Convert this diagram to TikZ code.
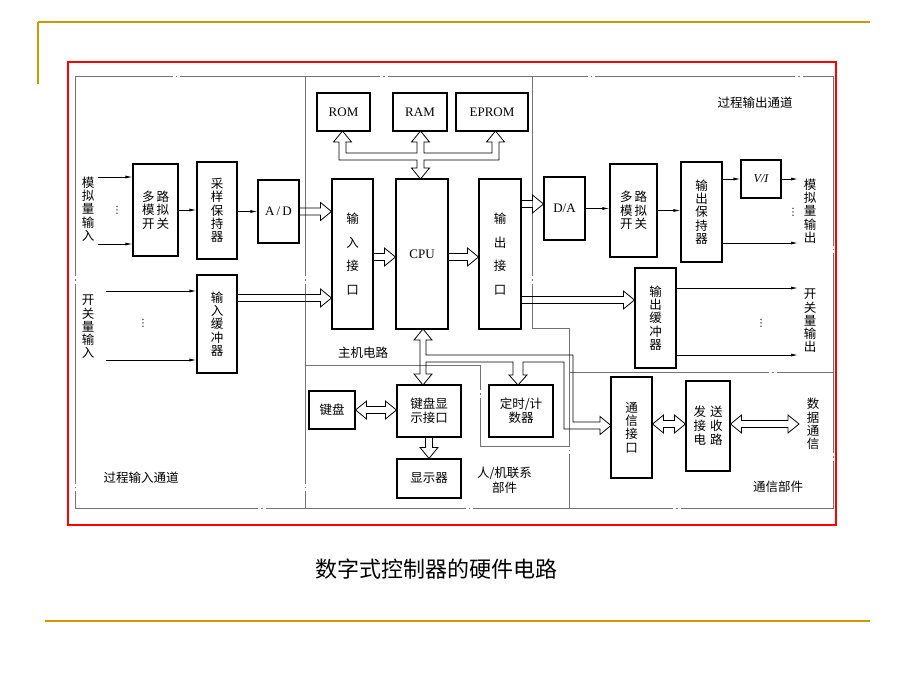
\documentclass[tikz,border=0pt]{standalone}
\usepackage{fontspec}
\setmainfont{Liberation Serif}
\newfontfamily\cjk{Noto Sans CJK SC}
\newfontfamily\symf{DejaVu Sans}
\usetikzlibrary{arrows.meta,calc}

\definecolor{gold}{RGB}{204,153,0}

\tikzset{
  box/.style={draw, line width=1.1pt, inner sep=0pt, align=center,
    font=\cjk\fontsize{12.5}{13.3}\selectfont},
  latin/.style={font=\fontsize{13}{15}\selectfont},
  lbl/.style={inner sep=0pt, align=center, font=\cjk\fontsize{12.5}{13.3}\selectfont},
  vdot/.style={inner sep=0pt, font=\symf\fontsize{10}{10}\selectfont},
  sig/.style={line width=0.8pt, -{Latex[length=7pt,width=3pt]}},
  region/.style={draw=black!55, line width=0.8pt,
    dash pattern=on 200pt off 3pt on 1.5pt off 3pt},
  bus/.style={line width=0.8pt, line join=miter},
  % hollow block arrow, head at the target
  hollow/.style={bus, to path={
    let \p1=(\tikztostart), \p2=(\tikztotarget),
        \n1={veclen(\x2-\x1,\y2-\y1)},
        \n2={(\x2-\x1)/\n1}, \n3={(\y2-\y1)/\n1} in
    ({\x1-3.5*\n3},{\y1+3.5*\n2})
    -- ({\x2-11*\n2-3.5*\n3},{\y2-11*\n3+3.5*\n2})
    -- ({\x2-11*\n2-9*\n3},{\y2-11*\n3+9*\n2})
    -- (\p2)
    -- ({\x2-11*\n2+9*\n3},{\y2-11*\n3-9*\n2})
    -- ({\x2-11*\n2+3.5*\n3},{\y2-11*\n3-3.5*\n2})
    -- ({\x1+3.5*\n3},{\y1-3.5*\n2})}},
  % hollow block arrow, heads at both ends
  hollow2/.style={bus, to path={
    let \p1=(\tikztostart), \p2=(\tikztotarget),
        \n1={veclen(\x2-\x1,\y2-\y1)},
        \n2={(\x2-\x1)/\n1}, \n3={(\y2-\y1)/\n1} in
    ({\x1+11*\n2-3.5*\n3},{\y1+11*\n3+3.5*\n2})
    -- ({\x2-11*\n2-3.5*\n3},{\y2-11*\n3+3.5*\n2})
    -- ({\x2-11*\n2-9*\n3},{\y2-11*\n3+9*\n2})
    -- (\p2)
    -- ({\x2-11*\n2+9*\n3},{\y2-11*\n3-9*\n2})
    -- ({\x2-11*\n2+3.5*\n3},{\y2-11*\n3-3.5*\n2})
    -- ({\x1+11*\n2+3.5*\n3},{\y1+11*\n3-3.5*\n2})
    -- ({\x1+11*\n2+9*\n3},{\y1+11*\n3-9*\n2})
    -- (\p1)
    -- ({\x1+11*\n2-9*\n3},{\y1+11*\n3+9*\n2})
    -- cycle}}
}

\begin{document}
\begin{tikzpicture}[x=1pt,y=-1pt]
\useasboundingbox (0,0) rectangle (920,690);

% slide frame
\draw[gold, line width=2pt] (38,22) -- (870,22);
\draw[gold, line width=1.5pt] (38,22) -- (38,84);
\draw[gold, line width=2pt] (45,621) -- (870,621);
\draw[red, line width=1.5pt] (68,62) rectangle (836,525);

% region borders
\draw[region] (75,76) rectangle (833,508);
\draw[region] (305,76) -- (305,508);
\draw[region] (532,76) -- (532,328) -- (569,328) -- (569,508);
\draw[region] (569,372) -- (833,372);
\draw[region] (305,365) -- (480,365) -- (480,446) -- (569,446);

% process input channel
\node[lbl] (ain) at (88,209) {模\\拟\\量\\输\\入};
\node[lbl] (din) at (88,327) {开\\关\\量\\输\\入};
\node[box, minimum width=45, minimum height=92] (mux1) at (155.5,210) {多\hspace{2pt}路\\模\hspace{2pt}拟\\开\hspace{2pt}关};
\node[box, minimum width=40, minimum height=97] (sh) at (217,210.5) {采\\样\\保\\持\\器};
\node[box, latin, minimum width=41, minimum height=63] (ad) at (278.5,211.5) {A\,/\,D};
\node[box, minimum width=40, minimum height=98] (inbuf) at (217,324) {输\\入\\缓\\冲\\器};
\node[vdot] (dot1) at (117,210) {⋮};
\node[vdot] (dot2) at (143,323) {⋮};
\node[lbl] (inchan) at (141,478) {过程输入通道};

% host circuit
\node[box, latin, minimum width=53, minimum height=38] (rom) at (343.5,112) {ROM};
\node[box, latin, minimum width=54, minimum height=38] (ram) at (420,112) {RAM};
\node[box, latin, minimum width=72, minimum height=38] (eprom) at (492,112) {EPROM};
\node[box, minimum width=41, minimum height=150, font=\cjk\fontsize{12.5}{23.7}\selectfont] (inif) at (352.5,254) {输\\入\\接\\口};
\node[box, latin, minimum width=52, minimum height=150] (cpu) at (422,254) {CPU};
\node[box, minimum width=42, minimum height=150, font=\cjk\fontsize{12.5}{23.7}\selectfont] (outif) at (500,254) {输\\出\\接\\口};
\node[lbl] (host) at (363,353) {主机电路};

% man/machine part
\node[box, minimum width=46, minimum height=38] (kbd) at (332,410) {键盘};
\node[box, minimum width=64, minimum height=52, font=\cjk\fontsize{12.5}{14}\selectfont] (kbdif) at (429,411) {键盘显\\示接口};
\node[box, minimum width=64, minimum height=52, font=\cjk\fontsize{12.5}{14}\selectfont] (timer) at (521,411) {定时/计\\数器};
\node[box, minimum width=64, minimum height=39] (disp) at (429,478.5) {显示器};
\node[lbl, font=\cjk\fontsize{12.5}{15}\selectfont] (hmi) at (504.5,480.5) {人/机联系\\部件};

% process output channel
\node[lbl] (outchan) at (755,103) {过程输出通道};
\node[box, latin, minimum width=41, minimum height=63] (da) at (564.5,208.5) {D/A};
\node[box, minimum width=47, minimum height=93] (mux2) at (633.5,210.5) {多\hspace{2pt}路\\模\hspace{2pt}拟\\开\hspace{2pt}关};
\node[box, minimum width=41, minimum height=100] (ohold) at (701.5,212) {输\\出\\保\\持\\器};
\node[box, minimum width=40, minimum height=38, font=\itshape\fontsize{12}{14}\selectfont] (vi) at (761,179) {V/I};
\node[box, minimum width=41, minimum height=100] (outbuf) at (655.5,318) {输\\出\\缓\\冲\\器};
\node[lbl] (aout) at (810,211) {模\\拟\\量\\输\\出};
\node[lbl] (dout) at (810,321) {开\\关\\量\\输\\出};
\node[vdot] (dot3) at (793,212) {⋮};
\node[vdot] (dot4) at (761,323) {⋮};

% communication part
\node[box, minimum width=41, minimum height=101] (comif) at (631.5,427.5) {通\\信\\接\\口};
\node[box, minimum width=44, minimum height=90, font=\cjk\fontsize{12.5}{13.8}\selectfont] (trx) at (708,426) {发\hspace{4pt}送\\接\hspace{4pt}收\\电\hspace{4pt}路};
\node[lbl] (dcom) at (813,424) {数\\据\\通\\信};
\node[lbl] (compart) at (778,487) {通信部件};

% caption
\node[font=\cjk\fontsize{22}{24}\selectfont] (title) at (436,569) {数字式控制器的硬件电路};

% signal lines
\coordinate (ai1) at (98,177);
\coordinate (ai2) at (98,244);
\coordinate (di1) at (106,291);
\coordinate (di2) at (106,360);
\draw[sig] (ai1) -- (ai1 -| mux1.west);
\draw[sig] (ai2) -- (ai2 -| mux1.west);
\draw[sig] (mux1.east) -- (mux1.east -| sh.west);
\draw[sig] (sh.east |- ad.west) -- (ad.west);
\draw[sig] (di1) -- (di1 -| inbuf.west);
\draw[sig] (di2) -- (di2 -| inbuf.west);

\coordinate (ao1) at (798,179);
\coordinate (ao2) at (798,243);
\coordinate (do1) at (798,288);
\coordinate (do2) at (798,355);
\draw[sig] (da.east) -- (da.east -| mux2.west);
\draw[sig] (mux2.east) -- (mux2.east -| ohold.west);
\draw[sig] (ohold.east |- vi.west) -- (vi.west);
\draw[sig] (vi.east) -- (ao1);
\draw[sig] (ohold.east |- ao2) -- (ao2);
\draw[sig] (outbuf.east |- do1) -- (do1);
\draw[sig] (outbuf.east |- do2) -- (do2);

% data paths
\draw[hollow] (ad.east) to (ad.east -| inif.west);
\draw[hollow] (inbuf.east |- 0,298) to (inif.west |- 0,298);
\draw[hollow] (inif.east |- 0,257) to (cpu.west |- 0,257);
\draw[hollow] (cpu.east |- 0,257) to (outif.west |- 0,257);
\draw[hollow] (outif.east |- 0,204) to (da.west |- 0,204);
\draw[hollow] (outif.east |- 0,300) to (outbuf.west |- 0,300);
\draw[hollow2] (kbd.east) to (kbd.east -| kbdif.west);
\draw[hollow] (kbdif.south) to (kbdif.south |- disp.north);
\draw[hollow2] (comif.east |- 0,424) to (trx.west |- 0,424);
\coordinate (dc) at (799,424);
\draw[hollow2] (trx.east |- dc) to (dc);

% memory bus
\draw[bus] (339,160) -- (339,142) -- (333.5,142) -- (342.5,131) -- (351.5,142) -- (346,142)
  -- (346,153) -- (417,153) -- (417,142) -- (411.5,142) -- (420.5,131) -- (429.5,142)
  -- (424,142) -- (424,153) -- (492,153) -- (492,142) -- (486.5,142) -- (495.5,131)
  -- (504.5,142) -- (499,142) -- (499,160) -- (424,160) -- (424,168) -- (429.5,168)
  -- (420.5,179) -- (411.5,168) -- (417,168) -- (417,160) -- cycle;

% system bus below the CPU
\draw[bus] (423,329) -- (432,340) -- (426,340) -- (426,355) -- (573,355) -- (573,422)
  -- (600,422) -- (600,416.5) -- (611,425.5) -- (600,434.5) -- (600,429) -- (564,429)
  -- (564,362) -- (523,362) -- (523,375) -- (527,375) -- (518,385) -- (509,375)
  -- (513,375) -- (513,362) -- (426,362) -- (426,374) -- (432,374) -- (423,385)
  -- (414,374) -- (420,374) -- (420,340) -- (414,340) -- cycle;
\end{tikzpicture}
\end{document}
